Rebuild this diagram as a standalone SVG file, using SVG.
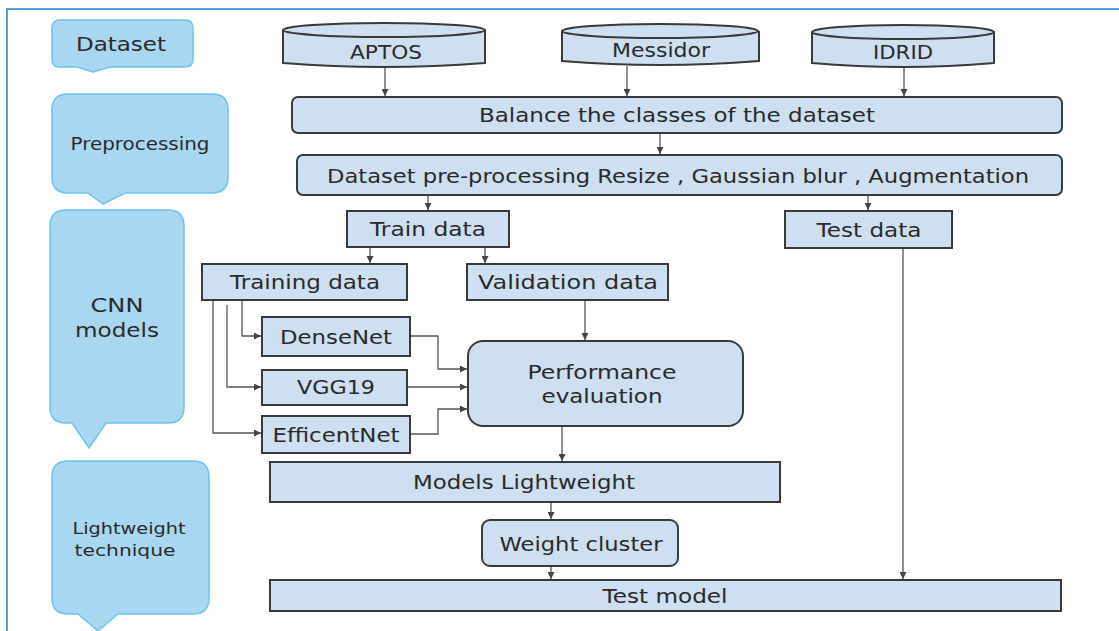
<svg xmlns="http://www.w3.org/2000/svg" width="1119" height="631" viewBox="0 0 1119 631">
<style>
.box{fill:#cddff1;stroke:#3a3a3a;stroke-width:2}
.call{fill:#a9d6f0;stroke:#6dc4ec;stroke-width:1.5}
.t{font-family:"DejaVu Sans","Liberation Sans",sans-serif;fill:#2a2a2a;text-anchor:middle;dominant-baseline:central}
.c{fill:none;stroke:#555;stroke-width:1.3;marker-end:url(#ah)}
</style>
<defs>
<marker id="ah" viewBox="0 0 10 10" refX="10" refY="5" markerWidth="7" markerHeight="7" markerUnits="userSpaceOnUse" orient="auto">
<path d="M0,0 L10,5 L0,10 z" fill="#444"/>
</marker>
</defs>
<rect width="1119" height="631" fill="#fff"/>
<path d="M7,631 V9 H1119" fill="none" stroke="#5b9bd5" stroke-width="2"/>

<g id="call-dataset">
<path class="call" d="M60,20 H185 Q193,20 193,28 V59 Q193,67 185,67 H110 L93,72 L77,67 H60 Q52,67 52,59 V28 Q52,20 60,20 Z"/>
<text class="t" x="121" y="44" font-size="19" textLength="90" lengthAdjust="spacingAndGlyphs">Dataset</text>
</g>
<g id="call-preprocessing">
<path class="call" d="M68,94 H212 Q228,94 228,110 V177 Q228,193 212,193 H125 L103,204 L88,193 H68 Q52,193 52,177 V110 Q52,94 68,94 Z"/>
<text class="t" x="140" y="144" font-size="17" textLength="139" lengthAdjust="spacingAndGlyphs">Preprocessing</text>
</g>
<g id="call-cnn">
<path class="call" d="M66,210 H168 Q184,210 184,226 V407 Q184,423 168,423 H106 L89,448 L72,423 H66 Q50,423 50,407 V226 Q50,210 66,210 Z"/>
<text class="t" x="117" y="305" font-size="19" textLength="53" lengthAdjust="spacingAndGlyphs">CNN</text>
<text class="t" x="117" y="330" font-size="19" textLength="84" lengthAdjust="spacingAndGlyphs">models</text>
</g>
<g id="call-lightweight">
<path class="call" d="M68,461 H193 Q209,461 209,477 V598 Q209,614 193,614 H118 L98,631 L78,614 H68 Q52,614 52,598 V477 Q52,461 68,461 Z"/>
<text class="t" x="129" y="528" font-size="16" textLength="113" lengthAdjust="spacingAndGlyphs">Lightweight</text>
<text class="t" x="125" y="550" font-size="16" textLength="101" lengthAdjust="spacingAndGlyphs">technique</text>
</g>

<g id="aptos">
<path class="box" d="M283,30 V63 Q384,71 485,63 V30"/>
<ellipse class="box" cx="384" cy="30" rx="101" ry="7"/>
<text class="t" x="386" y="52" font-size="20" textLength="72" lengthAdjust="spacingAndGlyphs">APTOS</text>
</g>
<g id="messidor">
<path class="box" d="M562,31 V61 Q660,69 759,61 V31"/>
<ellipse class="box" cx="660" cy="31" rx="98" ry="7"/>
<text class="t" x="661" y="50" font-size="20" textLength="98" lengthAdjust="spacingAndGlyphs">Messidor</text>
</g>
<g id="idrid">
<path class="box" d="M812,32 V63 Q903,71 994,63 V32"/>
<ellipse class="box" cx="903" cy="32" rx="91" ry="7"/>
<text class="t" x="903" y="52" font-size="20" textLength="60" lengthAdjust="spacingAndGlyphs">IDRID</text>
</g>

<g id="balance">
<rect class="box" x="292" y="97" width="770" height="36" rx="6"/>
<text class="t" x="677" y="115" font-size="20" textLength="396" lengthAdjust="spacingAndGlyphs">Balance the classes of the dataset</text>
</g>
<g id="preproc">
<rect class="box" x="297" y="155" width="765" height="40" rx="6"/>
<text class="t" x="678" y="176" font-size="20" textLength="702" lengthAdjust="spacingAndGlyphs">Dataset pre-processing Resize , Gaussian blur , Augmentation</text>
</g>
<g id="train">
<rect class="box" x="347" y="211" width="162" height="36"/>
<text class="t" x="428" y="229" font-size="20" textLength="116" lengthAdjust="spacingAndGlyphs">Train data</text>
</g>
<g id="test">
<rect class="box" x="785" y="211" width="167" height="37"/>
<text class="t" x="869" y="230" font-size="20" textLength="105" lengthAdjust="spacingAndGlyphs">Test data</text>
</g>
<g id="training">
<rect class="box" x="202" y="264" width="205" height="36"/>
<text class="t" x="305" y="282" font-size="20" textLength="150" lengthAdjust="spacingAndGlyphs">Training data</text>
</g>
<g id="validation">
<rect class="box" x="467" y="264" width="201" height="36"/>
<text class="t" x="568" y="282" font-size="20" textLength="180" lengthAdjust="spacingAndGlyphs">Validation data</text>
</g>
<g id="densenet">
<rect class="box" x="262" y="317" width="148" height="39"/>
<text class="t" x="336" y="337" font-size="20" textLength="112" lengthAdjust="spacingAndGlyphs">DenseNet</text>
</g>
<g id="vgg19">
<rect class="box" x="262" y="370" width="145" height="35"/>
<text class="t" x="336" y="387" font-size="20" textLength="78" lengthAdjust="spacingAndGlyphs">VGG19</text>
</g>
<g id="efficentnet">
<rect class="box" x="262" y="416" width="148" height="37"/>
<text class="t" x="336" y="435" font-size="20" textLength="127" lengthAdjust="spacingAndGlyphs">EfficentNet</text>
</g>
<g id="perf">
<rect class="box" x="468" y="341" width="275" height="85" rx="15"/>
<text class="t" x="602" y="372" font-size="20" textLength="149" lengthAdjust="spacingAndGlyphs">Performance</text>
<text class="t" x="602" y="396" font-size="20" textLength="121" lengthAdjust="spacingAndGlyphs">evaluation</text>
</g>
<g id="models-lightweight">
<rect class="box" x="270" y="462" width="510" height="40"/>
<text class="t" x="524" y="482" font-size="20" textLength="222" lengthAdjust="spacingAndGlyphs">Models Lightweight</text>
</g>
<g id="weight-cluster">
<rect class="box" x="482" y="520" width="196" height="46" rx="8"/>
<text class="t" x="581" y="544" font-size="20" textLength="163" lengthAdjust="spacingAndGlyphs">Weight cluster</text>
</g>
<g id="test-model">
<rect class="box" x="270" y="580" width="791" height="31"/>
<text class="t" x="665" y="596" font-size="20" textLength="125" lengthAdjust="spacingAndGlyphs">Test model</text>
</g>

<g id="connectors">
<path class="c" d="M385,68 V96"/>
<path class="c" d="M627,66 V96"/>
<path class="c" d="M904,68 V96"/>
<path class="c" d="M660,134 V154"/>
<path class="c" d="M428,196 V210"/>
<path class="c" d="M868,196 V210"/>
<path class="c" d="M370,248 V263"/>
<path class="c" d="M485,248 V263"/>
<path class="c" d="M242,301 V336 H261"/>
<path class="c" d="M227,305 V387 H261"/>
<path class="c" d="M213,301 V433 H261"/>
<path class="c" d="M411,336 H438 V369 H467"/>
<path class="c" d="M408,387 H467"/>
<path class="c" d="M411,434 H438 V409 H467"/>
<path class="c" d="M585,301 V340"/>
<path class="c" d="M562,427 V461"/>
<path class="c" d="M551,503 V519"/>
<path class="c" d="M551,567 V579"/>
<path class="c" d="M903,249 V579"/>
</g>
</svg>
